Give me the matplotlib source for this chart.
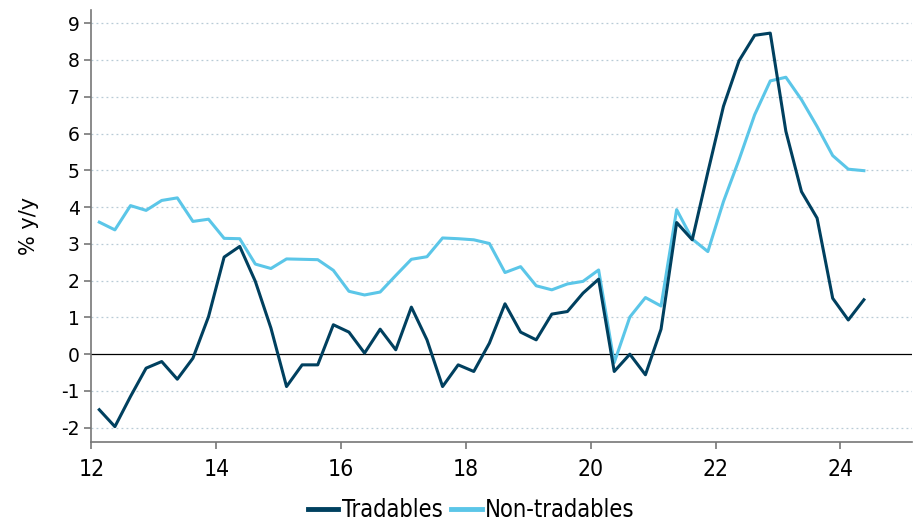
import matplotlib
matplotlib.use("Agg")
import matplotlib.pyplot as plt
import numpy as np

# quarterly data, 2012Q1 - 2024Q2
tradables = [-1.51, -1.97, -1.15, -0.38, -0.20, -0.68, -0.11, 1.02, 2.64, 2.93,
             1.98, 0.71, -0.88, -0.29, -0.29, 0.80, 0.60, 0.03, 0.68, 0.12,
             1.28, 0.39, -0.88, -0.29, -0.47, 0.30, 1.37, 0.60, 0.39, 1.09,
             1.16, 1.66, 2.04, -0.47, 0.00, -0.56, 0.68, 3.58, 3.11, 4.95,
             6.74, 7.98, 8.67, 8.73, 6.06, 4.42, 3.70, 1.52, 0.93, 1.48]
non_tradables = [3.59, 3.38, 4.04, 3.91, 4.18, 4.25, 3.61, 3.67, 3.15, 3.14,
                 2.45, 2.33, 2.59, 2.58, 2.57, 2.28, 1.71, 1.61, 1.69, 2.14,
                 2.58, 2.65, 3.16, 3.14, 3.11, 3.01, 2.22, 2.38, 1.86, 1.75,
                 1.91, 1.98, 2.29, -0.23, 1.01, 1.54, 1.31, 3.93, 3.13, 2.79,
                 4.15, 5.29, 6.51, 7.43, 7.53, 6.92, 6.19, 5.40, 5.03, 4.99]
x_ticks = [12, 14, 16, 18, 20, 22, 24]
y_ticks = list(range(-2, 10))

x = 12.125 + 0.25 * np.arange(len(tradables))

DARK = "#00405f"
LIGHT = "#5bc6e8"

fig = plt.figure(figsize=(9.13, 5.23), dpi=100)
ax = fig.add_axes([0.1002, 0.154, 0.899, 0.827])

for y in y_ticks:
    if y != 0:
        ax.axhline(y, color="#b8cbd6", lw=0.9, ls=(0, (1.5, 2.5)), zorder=0)
ax.axhline(0, color="black", lw=0.9, zorder=1)

ax.plot(x, tradables, color=DARK, lw=2.2, label="Tradables", zorder=3)
ax.plot(x, non_tradables, color=LIGHT, lw=2.2, label="Non-tradables", zorder=2)

ax.set_xlim(12, 25.15)
ax.set_ylim(-2.4, 9.36)
ax.set_xticks(x_ticks)
ax.set_yticks(y_ticks)
ax.set_yticklabels([str(v) for v in y_ticks], fontsize=13.5, family="DejaVu Sans")
ax.set_xticklabels([str(v) for v in x_ticks], fontsize=16.5,
                   family="DejaVu Sans", fontstretch="condensed")

for s in ["top", "right"]:
    ax.spines[s].set_visible(False)
for s in ["left", "bottom"]:
    ax.spines[s].set_color("#777777")
    ax.spines[s].set_linewidth(1.2)
ax.tick_params(axis="both", colors="#777777", labelcolor="black", length=5, width=1.2)
ax.tick_params(axis="x", pad=6)

ax.set_ylabel("% y/y", fontsize=15, labelpad=16)

leg = fig.legend(loc="center", bbox_to_anchor=(0.516, 0.025), ncol=2, frameon=False,
                 handlelength=1.3, handletextpad=0.15, columnspacing=0.35,
                 prop={"family": "DejaVu Sans", "stretch": "condensed", "size": 17})
for h in leg.legend_handles:
    h.set_linewidth(3.5)

fig.savefig("out.png", dpi=100)
